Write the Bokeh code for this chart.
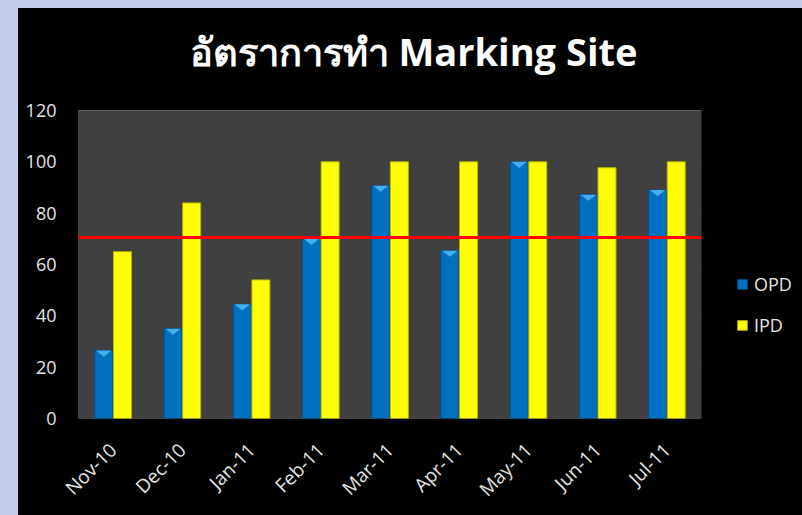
from bokeh.plotting import figure
from bokeh.models import (ColumnDataSource, Range1d, Legend, LegendItem,
                          FixedTicker, Spacer, BoxAnnotation, Label)
from bokeh.layouts import row, column
from bokeh.embed import file_html
from bokeh.resources import INLINE
import math

# ---- data ----
months = ["Nov-10", "Dec-10", "Jan-11", "Feb-11", "Mar-11",
          "Apr-11", "May-11", "Jun-11", "Jul-11"]
opd = [26.5, 35, 44.5, 70, 90.7, 65.4, 100, 87.2, 89]
ipd = [65, 84, 54, 100, 100, 100, 100, 97.7, 100]
target = 70.5
y_ticks = [0, 20, 40, 60, 80, 100, 120]
title_text = "อัตราการทำ Marking Site"
series_names = ["OPD", "IPD"]

# ---- layout/style constants ----
BAR_W = 0.26
OFF = 0.135
SLIDE = "#c3cbe6"
GRID = "#868686"
N = len(months)
X_END = N * 724 / 623                 # frame reaches right edge (legend room)
Y_END = y_ticks[-1] * 410 / 308       # frame reaches top edge (title room)
centers = [i + 0.5 for i in range(N)]

src = ColumnDataSource(dict(
    x_opd=[c - OFF for c in centers], x_ipd=[c + OFF for c in centers],
    opd=opd, ipd=ipd))

p = figure(width=784, height=507, x_range=Range1d(0, X_END),
           y_range=Range1d(y_ticks[0], Y_END), output_backend="svg",
           toolbar_location=None, title=None, min_border_left=60,
           min_border_right=0, min_border_top=0, min_border_bottom=97,
           styles={"background-color": "#000000"})

p.background_fill_color = "#000000"
p.border_fill_color = "#000000"
p.outline_line_color = None
p.grid.visible = False

# plot area (gray) spanning the category range
p.add_layout(BoxAnnotation(left=0, right=N, bottom=y_ticks[0], top=y_ticks[-1],
                           fill_color="#404040", fill_alpha=1,
                           line_color=None, level="underlay"))
# horizontal gridlines (incl. top border and base line) across the plot area
p.segment(x0=[0] * len(y_ticks), x1=[N] * len(y_ticks),
          y0=y_ticks, y1=y_ticks, line_color=GRID, line_width=1,
          level="underlay")
# left border of the plot area
p.segment(x0=[0], x1=[0], y0=[y_ticks[0]], y1=[y_ticks[-1]],
          line_color=GRID, line_width=2, level="underlay")

# chart title
p.add_layout(Label(x=335, y=368, x_units="screen", y_units="screen",
                   text=title_text, text_align="center", text_baseline="alphabetic",
                   text_color="#ffffff", text_font="Open Sans",
                   text_font_size="38px", text_font_style="bold"))

# bars
r_opd = p.vbar(x="x_opd", top="opd", width=BAR_W, source=src,
               fill_color="#0070c0", line_color="#004f8a", line_width=1)
r_ipd = p.vbar(x="x_ipd", top="ipd", width=BAR_W, source=src,
               fill_color="#ffff00", line_color="#b5b500", line_width=1)

# bevel highlight on top of blue bars (derived from data)
tri_xs, tri_ys = [], []
for c, v in zip(centers, opd):
    xc = c - OFF
    tri_xs.append([xc - BAR_W / 2 + 0.02, xc + BAR_W / 2 - 0.02, xc])
    tri_ys.append([v, v, v - 2.4])
p.patches(xs=tri_xs, ys=tri_ys, fill_color="#45b0f0", line_color=None)

# target line
p.segment(x0=[0], x1=[N], y0=[target], y1=[target], line_color="#ff0000", line_width=3)

# axes
p.yaxis.ticker = FixedTicker(ticks=y_ticks)
p.xaxis.ticker = FixedTicker(ticks=centers)
p.xaxis.major_label_overrides = {c: m for c, m in zip(centers, months)}
for ax in (p.xaxis[0], p.yaxis[0]):
    ax.axis_line_color = None
    ax.major_tick_line_color = None
    ax.minor_tick_line_color = None
    ax.major_label_text_color = "#e6e6e6"
    ax.major_label_text_font = "Open Sans"
    ax.major_label_text_font_size = "18px"
p.yaxis.major_label_standoff = 16
p.xaxis.major_label_text_font_size = "19px"
p.xaxis.major_label_orientation = math.pi / 4
p.xaxis.major_label_standoff = 22

legend = Legend(items=[LegendItem(label=series_names[0], renderers=[r_opd]),
                       LegendItem(label=series_names[1], renderers=[r_ipd])],
                location=(658, 81), orientation="vertical",
                background_fill_alpha=0, border_line_color=None,
                label_text_color="#e6e6e6", label_text_font="Open Sans",
                label_text_font_size="18px", glyph_width=12, glyph_height=12,
                label_height=25, spacing=16, padding=0, margin=0, label_standoff=6)
p.add_layout(legend, "center")

top_strip = Spacer(width=802, height=8, styles={"background-color": SLIDE})
left_strip = Spacer(width=18, height=507, styles={"background-color": SLIDE})
layout = column(top_strip, row(left_strip, p))

open("out.html", "w").write(file_html(layout, INLINE))
